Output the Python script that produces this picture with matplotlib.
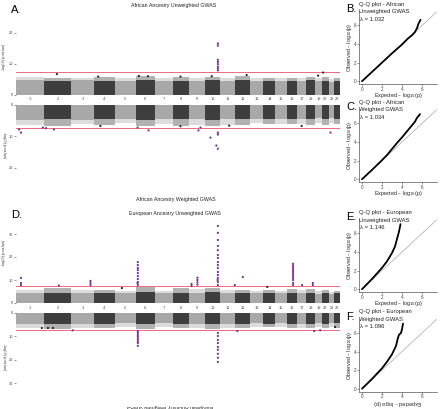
import matplotlib.pyplot as plt
import numpy as np

plt.rcParams['font.family'] = ['Liberation Sans', 'DejaVu Sans']

W, H = 440, 409
fig = plt.figure(figsize=(4.4, 4.09), dpi=100)


def rect(x0, y0, x1, y1):
    # pixel box -> figure fraction
    return [x0 / W, 1 - y1 / H, (x1 - x0) / W, (y1 - y0) / H]


def fpos(x, y):
    return x / W, 1 - y / H


# Chromosome sizes (Mb, hg19)
chrom_len = np.array([249.3, 243.2, 198.0, 191.2, 180.9, 171.1, 159.1, 146.4, 141.2, 135.5, 135.0,
                      133.9, 115.2, 107.3, 102.5, 90.4, 81.2, 78.1, 59.1, 63.0, 48.1, 51.3])
chrom_names = [str(i) for i in range(1, 23)]
offsets = np.concatenate([[0], np.cumsum(chrom_len)[:-1]])
centers = offsets + chrom_len / 2

# bulk of the SNP cloud per chromosome (-log10 p) and its ragged edge
afr_unw_bulk = [4.6, 4.5, 4.6, 4.5, 4.4, 4.6, 4.5, 4.5, 4.4, 4.6, 4.5, 4.6, 4.4, 4.5, 4.4, 4.5, 4.4, 4.6, 4.3, 4.5, 4.2, 4.4]
afr_unw_edge = [5.5, 5.4, 5.4, 5.6, 5.2, 5.9, 5.2, 5.7, 5.3, 5.8, 5.4, 5.9, 5.2, 5.3, 5.2, 5.4, 5.3, 5.6, 5.2, 5.8, 5.0, 5.3]
afr_w_bulk = [4.8, 4.7, 4.8, 4.7, 4.6, 4.8, 4.6, 4.7, 4.6, 4.8, 4.7, 4.7, 4.6, 4.6, 4.5, 4.6, 4.5, 4.6, 4.4, 4.6, 4.3, 4.5]
afr_w_edge = [6.6, 6.8, 6.2, 6.5, 6.0, 6.8, 6.1, 6.7, 6.6, 6.9, 6.4, 6.6, 6.0, 6.2, 6.1, 6.3, 6.2, 6.5, 6.0, 6.4, 5.8, 6.1]
eur_unw_bulk = [4.4, 4.5, 4.4, 4.3, 4.2, 4.6, 4.3, 4.4, 4.3, 4.6, 4.4, 4.3, 4.2, 4.3, 4.2, 4.4, 4.3, 4.4, 4.1, 4.3, 4.0, 4.2]
eur_unw_edge = [5.6, 6.4, 5.8, 5.5, 5.4, 6.8, 5.3, 6.6, 6.2, 6.7, 5.8, 5.6, 5.3, 5.6, 5.4, 6.0, 5.6, 6.2, 5.2, 5.5, 5.0, 5.4]
eur_w_bulk = [4.6, 4.7, 4.5, 4.5, 4.4, 4.8, 4.4, 4.6, 4.5, 4.8, 4.6, 4.5, 4.4, 4.5, 4.4, 4.6, 4.5, 4.6, 4.3, 4.5, 4.2, 4.4]
eur_w_edge = [6.4, 6.8, 6.6, 6.2, 6.0, 7.0, 6.0, 6.6, 6.3, 6.9, 6.4, 6.3, 6.0, 6.1, 6.0, 6.3, 6.2, 6.5, 6.0, 6.2, 5.8, 6.5]

# top SNPs: chromosome, position (Mb), -log10 p
afr_unw_chr = [10, 10, 10, 10, 10, 10, 10, 10, 2, 4, 6, 6, 8, 10, 12, 19, 20]
afr_unw_pos = [114.7, 114.7, 114.7, 114.7, 114.7, 114.7, 114.7, 114.7, 114, 40, 30, 110, 70, 60, 100, 27, 12]
afr_unw_val = [16.5, 15.8, 11.2, 10.5, 9.8, 9.0, 8.4, 7.8, 6.6, 5.8, 6.0, 5.9, 5.8, 5.9, 6.3, 6.1, 7.1]

afr_w_chr = [1, 1, 1, 2, 2, 6, 6, 9, 9, 10, 10, 10, 10, 10, 21, 4, 8, 11, 17]
afr_w_pos = [27, 44, 239, 17, 88, 19, 116, 83, 101, 49, 101, 114.7, 114.7, 114.7, 15, 60, 70, 80, 40]
afr_w_val = [7.9, 8.9, 7.3, 7.5, 7.9, 7.3, 8.2, 8.2, 7.3, 10.5, 13.0, 8.9, 9.5, 14.0, 8.9, 6.8, 6.9, 6.7, 6.8]

eur_unw_chr = [1, 1, 1, 2, 3, 3, 3, 5,
               6, 6, 6, 6, 6, 6, 6, 6, 6, 6,
               9, 9, 9, 9, 9, 9,
               10, 10, 10, 10, 10, 10, 10, 10, 10, 10, 10, 10, 10, 10, 10, 10,
               11, 12,
               16, 16, 16, 16, 16, 16, 16, 16, 16, 16, 16,
               17, 18, 18, 14]
eur_unw_pos = [44, 44, 44, 132, 170, 170, 170, 60,
               20.7, 20.7, 20.7, 20.7, 20.7, 20.7, 20.7, 20.7, 20.7, 18,
               22, 22, 74, 74, 74, 74,
               114.7, 114.7, 114.7, 114.7, 114.7, 114.7, 114.7, 114.7, 114.7, 114.7, 114.7, 114.7, 114.7, 114.7, 114.7, 112,
               130, 66,
               53.8, 53.8, 53.8, 53.8, 53.8, 53.8, 53.8, 53.8, 53.8, 53.8, 53.8,
               44, 58, 58, 34]
eur_unw_val = [10.9, 8.7, 7.8, 7.6, 9.6, 8.7, 7.8, 6.5,
               17.8, 16.5, 15.2, 14.3, 13.0, 11.7, 10.4, 9.1, 7.8, 8.7,
               8.3, 7.4, 11.0, 10.0, 9.0, 8.0,
               33.5, 30.5, 27.4, 24.8, 23.0, 20.9, 19.6, 17.8, 16.5, 15.2, 13.5, 12.2, 10.9, 9.1, 7.8, 10.0,
               7.8, 11.3,
               17.0, 16.1, 15.2, 14.3, 13.5, 12.6, 11.7, 10.9, 10.0, 8.7, 7.8,
               7.8, 7.8, 8.7, 7.0]

eur_w_chr = [3, 6, 6, 6, 6, 6, 6, 6, 6,
             10, 10, 10, 10, 10, 10, 10, 10, 10,
             12, 18, 19, 22, 1, 2, 2]
eur_w_pos = [12.3, 20.7, 20.7, 20.7, 20.7, 20.7, 20.7, 20.7, 20.7,
             114.7, 114.7, 114.7, 114.7, 114.7, 114.7, 114.7, 114.7, 114.7,
             17, 70, 45, 7, 230, 35, 79]
eur_w_val = [7.4, 7.7, 8.5, 9.4, 10.2, 11.1, 12.0, 12.8, 14.0,
             8.5, 9.8, 11.5, 12.8, 14.5, 15.7, 17.4, 19.1, 20.9,
             7.7, 7.7, 7.4, 6.0, 6.4, 6.4, 6.4]

# Q-Q curves (expected vs observed -log10 p)
qq_b_exp = [0, 1, 2, 3, 4, 4.6, 5.0, 5.3, 5.5, 5.65, 5.85]
qq_b_obs = [0, 1.0, 2.0, 3.0, 3.95, 4.6, 4.95, 5.3, 5.7, 6.2, 6.6]
qq_c_exp = [0, 1, 2, 2.5, 3, 3.5, 4, 4.5, 5, 5.3, 5.5, 5.8]
qq_c_obs = [0, 1.0, 2.05, 2.6, 3.25, 3.9, 4.5, 5.15, 5.8, 6.2, 6.6, 7.0]
qq_e_exp = [0, 1, 1.5, 2, 2.5, 3, 3.3, 3.5, 3.7, 3.85]
qq_e_obs = [0, 1.1, 1.7, 2.3, 3.0, 3.9, 4.6, 5.4, 6.2, 7.0]
qq_f_exp = [0, 1, 2, 2.5, 3, 3.4, 3.6, 3.7, 3.9, 4.0, 4.1]
qq_f_obs = [0, 1.05, 2.2, 2.9, 3.7, 4.6, 5.5, 5.8, 6.0, 6.4, 7.0]

light, dark = '#a8a8a8', '#3e3e3e'
purple = '#7a2e95'
red = '#ec6a7c'
txt = '#444444'
sig = 7.3


def manhattan(box, ymax, bulk, edge, h_chr, h_pos, h_val, flip, yticks, labels):
    ax = fig.add_axes(rect(*box))
    cols = [light if i % 2 == 0 else dark for i in range(22)]
    ax.bar(offsets, bulk, width=chrom_len, align='edge', color=cols, linewidth=0)
    # thinner, speckled fringe above the bulk
    ax.bar(offsets, np.array(edge) - np.array(bulk), bottom=bulk, width=chrom_len, align='edge',
           color=cols, alpha=0.4, linewidth=0)
    h_chr = np.array(h_chr)
    x = offsets[h_chr - 1] + np.array(h_pos)
    v = np.array(h_val)
    c = [purple if val >= sig else '#222222' for val in v]
    ax.scatter(x, v, s=2.5, c=c, linewidths=0, zorder=3)
    ax.axhline(sig, color=red, lw=0.7, zorder=2)
    ax.set_xlim(0, chrom_len.sum())
    if flip:
        ax.set_ylim(ymax, 0)
    else:
        ax.set_ylim(0, ymax)
    ax.set_yticks(yticks)
    ax.tick_params(axis='y', labelsize=2.8, length=1.5, width=0.4, colors=txt, pad=0.8)
    if labels:
        ax.set_xticks(centers)
        ax.set_xticklabels(chrom_names)
        ax.tick_params(axis='x', labelsize=2.8, length=0, pad=2, colors=txt)
    else:
        ax.set_xticks([])
    for s in ax.spines.values():
        s.set_visible(False)
    ax.patch.set_alpha(0)
    return ax


manhattan((16, 10, 340, 94.5), 27.3, afr_unw_bulk, afr_unw_edge, afr_unw_chr, afr_unw_pos,
          afr_unw_val, False, [0, 10, 20], True)
manhattan((16, 104.5, 340, 185), 25.5, afr_w_bulk, afr_w_edge, afr_w_chr, afr_w_pos,
          afr_w_val, True, [0, 10, 20], False)
manhattan((16, 222.5, 340, 303), 35, eur_unw_bulk, eur_unw_edge, eur_unw_chr, eur_unw_pos,
          eur_unw_val, False, [0, 10, 20, 30], True)
manhattan((16, 313, 340, 395), 35, eur_w_bulk, eur_w_edge, eur_w_chr, eur_w_pos,
          eur_w_val, True, [0, 10, 20, 30], False)

ylab = '-log$_{10}$(p-value)'
fig.text(*fpos(4, 57), ylab, rotation=90, fontsize=3.0, color=txt, ha='center', va='center')
fig.text(*fpos(4, 145), ylab, rotation=270, fontsize=3.0, color=txt, ha='center', va='center')
fig.text(*fpos(4, 253), ylab, rotation=90, fontsize=3.0, color=txt, ha='center', va='center')
fig.text(*fpos(4, 357), ylab, rotation=270, fontsize=3.0, color=txt, ha='center', va='center')

fig.text(*fpos(174, 6), 'African Ancestry Unweighted GWAS', fontsize=3.8, color='#222', ha='center', va='center')
fig.text(*fpos(176, 200), 'African Ancestry Weighted GWAS', fontsize=3.8, color='#222', ha='center', va='center')
fig.text(*fpos(175, 213), 'European Ancestry Unweighted GWAS', fontsize=3.8, color='#222', ha='center', va='center')
fig.text(*fpos(170, 406), 'European Ancestry Weighted GWAS', fontsize=3.8, color='#222', ha='center', va='center',
         rotation=180)

fig.text(*fpos(11, 10), 'A.', fontsize=8, ha='left', va='center')
fig.text(*fpos(11, 215), 'D.', fontsize=8, ha='left', va='center')


def qq(top, exp, obs, letter, title, lam, flip_xlabel):
    bottom = top + 72.5
    ax = fig.add_axes(rect(359, top, 437, bottom))
    ax.plot([0, 8], [0, 8], color='#b5b5b5', lw=0.6)
    ax.plot(exp, obs, color='black', lw=1.3, solid_capstyle='round')
    ax.set_xlim(-0.3, 7.5)
    ax.set_ylim(-0.3, 7.5)
    ax.set_xticks([0, 2, 4, 6])
    ax.set_yticks([0, 2, 4, 6])
    ax.tick_params(labelsize=3.3, length=1.2, width=0.4, colors=txt, pad=0.8)
    for s in ['top', 'right']:
        ax.spines[s].set_visible(False)
    for s in ['left', 'bottom']:
        ax.spines[s].set_color('#555555')
        ax.spines[s].set_linewidth(0.5)
    ax.patch.set_alpha(0)
    fig.text(*fpos(349, top + 36), 'Observed – log$_{10}$(p)', rotation=90, fontsize=3.9,
             color='#222', ha='center', va='center')
    fig.text(*fpos(398, bottom + 11.5), 'Expected – log$_{10}$(p)', fontsize=3.9, color='#222',
             ha='center', va='center', rotation=180 if flip_xlabel else 0)
    fig.text(*fpos(346, top - 2), letter, fontsize=8, ha='left', va='center')
    fig.text(*fpos(359, top - 7), title[0], fontsize=4.2, color='#222', ha='left', va='center')
    fig.text(*fpos(359, top + 0.5), title[1], fontsize=4.2, color='#222', ha='left', va='center')
    fig.text(*fpos(360, top + 8), 'λ = ' + lam, fontsize=4.2, color='#222', ha='left', va='center')


qq(11.5, qq_b_exp, qq_b_obs, 'B.', ['Q-Q plot - African', 'Unweighted GWAS'], '1.032', False)
qq(109.5, qq_c_exp, qq_c_obs, 'C.', ['Q-Q plot - African', 'Weighted GWAS'], '1.034', False)
qq(219.5, qq_e_exp, qq_e_obs, 'E.', ['Q-Q plot - European', 'Unweighted GWAS'], '1.146', False)
qq(319, qq_f_exp, qq_f_obs, 'F.', ['Q-Q plot - European', 'Weighted GWAS'], '1.096', True)

fig.savefig('out.png', dpi=100, facecolor='white')
